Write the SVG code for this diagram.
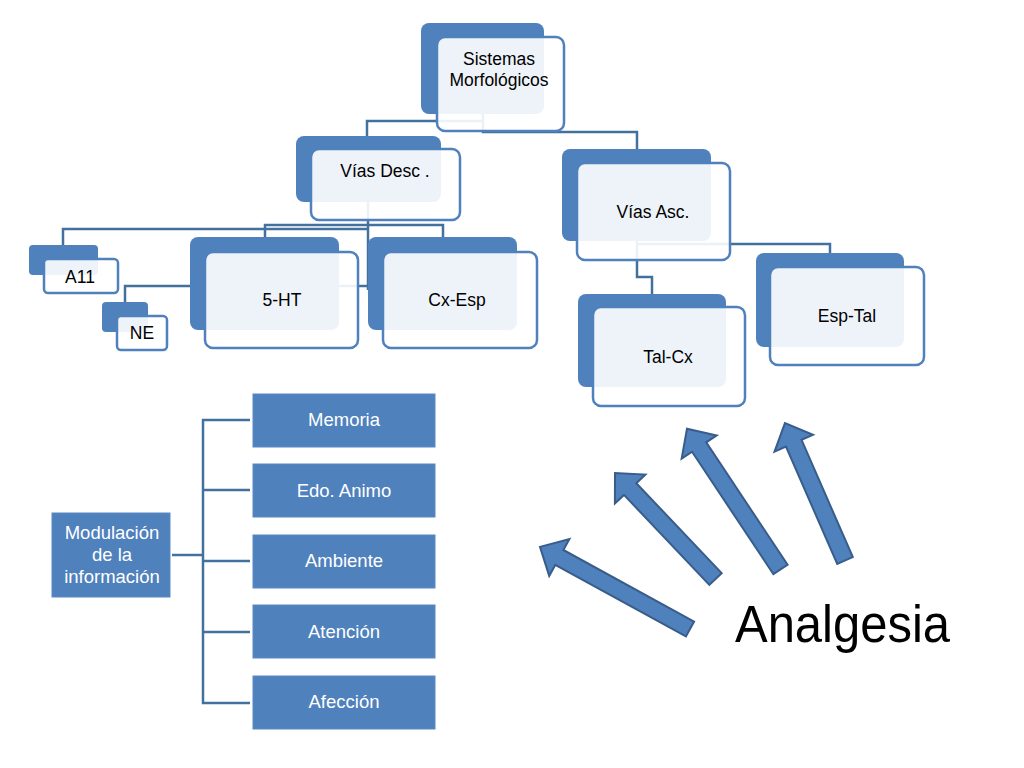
<svg xmlns="http://www.w3.org/2000/svg" width="1024" height="768" viewBox="0 0 1024 768">
<defs>
<style>
.back{fill:#4f81bd;}
.front{fill:#ffffff;fill-opacity:0.9;stroke:#4f81bd;stroke-width:2.5;}
.t{font-family:"Liberation Sans",Arial,sans-serif;font-size:17.5px;fill:#000;text-anchor:middle;}
.conn{fill:none;stroke:#41719c;stroke-width:2.5;}
.box{fill:#4f81bd;stroke:#5b8ac3;stroke-width:1;}
.w{font-family:"Liberation Sans",Arial,sans-serif;font-size:18.5px;fill:#fff;text-anchor:middle;}
.arr{fill:#4f81bd;stroke:#385d8a;stroke-width:2;stroke-linejoin:miter;}
</style>
</defs>
<rect width="1024" height="768" fill="#fff"/>
<g id="connectors">
<path class="conn" d="M483 114 V132 H637 V149"/>
<path class="conn" d="M483 121 H367 V136"/>
<path class="conn" d="M368 202 V290"/>
<path class="conn" d="M63 245 V229 H368"/>
<path class="conn" d="M265 237 V225 H443 V237"/>
<path class="conn" d="M125 302 V286 H368"/>
<path class="conn" d="M637 241 V277 H652 V294"/>
<path class="conn" d="M637 244 H830 V253"/>
<path class="conn" d="M172 555 H203"/>
<path class="conn" d="M250 420 H203 V703 H250 M203 490 H250 M203 561 H250 M203 632 H250"/>
</g>
<g id="node-sistemas">
<rect class="back" x="421" y="23" width="123" height="91" rx="8"/>
<rect class="front" x="437" y="37" width="127" height="94" rx="8"/>
<text class="t" x="499" y="65">Sistemas</text>
<text class="t" x="499" y="86">Morfológicos</text>
</g>
<g id="node-vias-desc">
<rect class="back" x="296" y="136" width="145" height="66" rx="8"/>
<rect class="front" x="311" y="149" width="149" height="71" rx="8"/>
<text class="t" x="385" y="177">Vías Desc .</text>
</g>
<g id="node-vias-asc">
<rect class="back" x="562" y="149" width="149" height="92" rx="8"/>
<rect class="front" x="577" y="163" width="153" height="97" rx="8"/>
<text class="t" x="653" y="218">Vías Asc.</text>
</g>
<g id="node-a11">
<rect class="back" x="29" y="245" width="69" height="30" rx="4"/>
<rect class="front" x="44" y="259" width="74" height="34" rx="4"/>
<text class="t" x="80" y="283">A11</text>
</g>
<g id="node-ne">
<rect class="back" x="102" y="302" width="46" height="30" rx="4"/>
<rect class="front" x="117" y="316" width="50" height="34" rx="4"/>
<text class="t" x="142" y="339">NE</text>
</g>
<g id="node-5ht">
<rect class="back" x="190" y="237" width="149" height="93" rx="8"/>
<rect class="front" x="205" y="252" width="153" height="96" rx="8"/>
<text class="t" x="282" y="306">5-HT</text>
</g>
<g id="node-cxesp">
<rect class="back" x="368" y="237" width="149" height="93" rx="8"/>
<rect class="front" x="383" y="252" width="154" height="96" rx="8"/>
<text class="t" x="457" y="306">Cx-Esp</text>
</g>
<g id="node-talcx">
<rect class="back" x="578" y="294" width="148" height="93" rx="8"/>
<rect class="front" x="593" y="307" width="152" height="99" rx="8"/>
<text class="t" x="668" y="363">Tal-Cx</text>
</g>
<g id="node-esptal">
<rect class="back" x="756" y="253" width="148" height="94" rx="8"/>
<rect class="front" x="770" y="267" width="154" height="98" rx="8"/>
<text class="t" x="847" y="322">Esp-Tal</text>
</g>
<g id="node-modulacion">
<rect class="box" x="52" y="513" width="118" height="84"/>
<text class="w" x="112" y="539">Modulación</text>
<text class="w" x="112" y="561">de la</text>
<text class="w" x="112" y="583">información</text>
</g>
<g id="node-memoria">
<rect class="box" x="253" y="394" width="182" height="53"/>
<text class="w" x="344" y="426">Memoria</text>
</g>
<g id="node-edo-animo">
<rect class="box" x="253" y="464" width="182" height="53"/>
<text class="w" x="344" y="497">Edo. Animo</text>
</g>
<g id="node-ambiente">
<rect class="box" x="253" y="535" width="182" height="53"/>
<text class="w" x="344" y="567">Ambiente</text>
</g>
<g id="node-atencion">
<rect class="box" x="253" y="605" width="182" height="53"/>
<text class="w" x="344" y="638">Atención</text>
</g>
<g id="node-afeccion">
<rect class="box" x="253" y="676" width="182" height="53"/>
<text class="w" x="344" y="708">Afección</text>
</g>
<g id="arrows">
<polygon class="arr" transform="translate(690 629) rotate(-151.3)" points="0,-8.5 149,-8.5 149,-21 171,0 149,21 149,8.5 0,8.5"/>
<polygon class="arr" transform="translate(715.5 579) rotate(-133.5)" points="0,-8.5 124,-8.5 124,-21 146,0 124,21 124,8.5 0,8.5"/>
<polygon class="arr" transform="translate(780.5 569.5) rotate(-123.6)" points="0,-8.5 147,-8.5 147,-21 169,0 147,21 147,8.5 0,8.5"/>
<polygon class="arr" transform="translate(845 560.5) rotate(-113.6)" points="0,-8.5 128,-8.5 128,-21 150,0 128,21 128,8.5 0,8.5"/>
</g>
<g id="label-analgesia">
<text x="735" y="642" font-family="Liberation Sans, Arial, sans-serif" font-size="51" fill="#000" textLength="215" lengthAdjust="spacingAndGlyphs">Analgesia</text>
</g>
</svg>
